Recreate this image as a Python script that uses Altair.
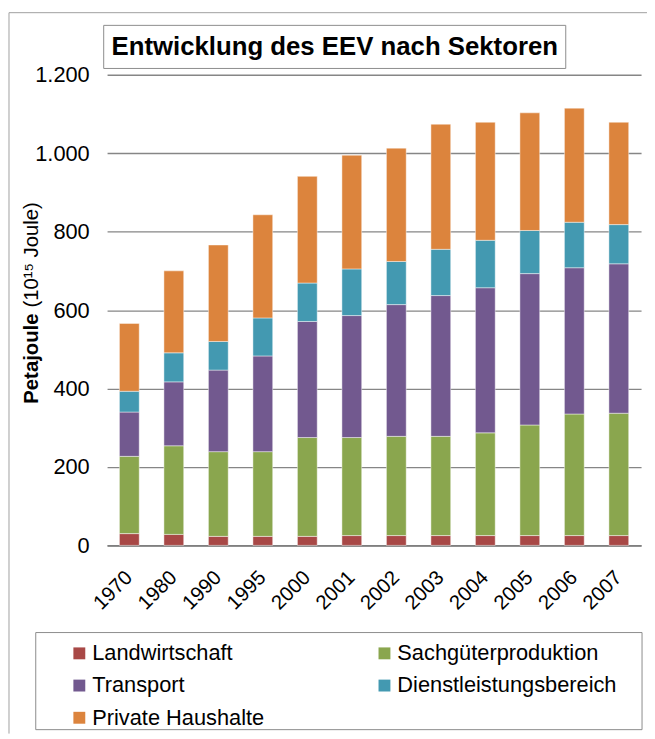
import altair as alt
import pandas as pd

years = ["1970", "1980", "1990", "1995", "2000", "2001", "2002", "2003", "2004", "2005", "2006", "2007"]
landwirtschaft = [30, 28, 23, 23, 23, 25, 25, 25, 25, 25, 25, 25]
sachgueter = [197, 226, 216, 216, 252, 250, 253, 253, 262, 282, 310, 312]
transport = [113, 163, 208, 244, 296, 311, 336, 359, 370, 386, 373, 381]
dienstleistung = [53, 74, 73, 97, 98, 119, 110, 118, 121, 110, 116, 100]
haushalte = [173, 209, 246, 263, 272, 290, 289, 319, 301, 300, 291, 261]

sectors = ["Landwirtschaft", "Sachgüterproduktion", "Transport",
           "Dienstleistungsbereich", "Private Haushalte"]
colors = ["#A84846", "#8AA64E", "#72598F", "#4399B1", "#DC843D"]
series = [landwirtschaft, sachgueter, transport, dienstleistung, haushalte]
y_ticks = [0, 200, 400, 600, 800, 1000, 1200]

rows = []
for si, (name, vals) in enumerate(zip(sectors, series)):
    for yr, v in zip(years, vals):
        rows.append({"Jahr": yr, "Sektor": name, "Wert": v, "idx": si})
df = pd.DataFrame(rows)
one = pd.DataFrame({"a": [0]})

FONT = "Liberation Sans"

bars = alt.Chart(df).mark_bar(stroke="#ffffff", strokeOpacity=0.45, strokeWidth=1).encode(
    x=alt.X("Jahr:N", sort=years,
            scale=alt.Scale(paddingInner=0.555, paddingOuter=0.2775),
            axis=alt.Axis(title=None, labelAngle=-45, labelAlign="right", labelBaseline="middle",
                          labelPadding=29, ticks=False, labelFontSize=20.5, labelColor="#000000",
                          domainColor="#7f7f7f", domainWidth=2, grid=False)),
    y=alt.Y("Wert:Q", stack="zero",
            scale=alt.Scale(domain=[0, 1200], nice=False),
            axis=alt.Axis(title=None, values=y_ticks, grid=True, gridColor="#868686", gridWidth=1.4,
                          domain=False, ticks=False, labelPadding=18, labelFontSize=22,
                          labelColor="#000000",
                          labelExpr="replace(format(datum.value, ','), ',', '.')")),
    color=alt.Color("Sektor:N", sort=sectors,
                    scale=alt.Scale(domain=sectors, range=colors),
                    legend=alt.Legend(title=None, orient="none", legendX=-39, legendY=573,
                                      direction="horizontal",
                                      columns=2, columnPadding=110, rowPadding=10.5,
                                      symbolType="square", symbolSize=144, symbolStrokeWidth=0,
                                      labelFontSize=22, labelOffset=2, labelLimit=400,
                                      labelColor="#000000", padding=0)),
    order=alt.Order("idx:Q", sort="ascending"),
)

border_v = alt.Chart(one).mark_rule(color="#a0a0a0", strokeWidth=1).encode(
    x=alt.value(-99), y=alt.value(-62.7), y2=alt.value(665))
border_h = alt.Chart(one).mark_rule(color="#a0a0a0", strokeWidth=1).encode(
    x=alt.value(-99), x2=alt.value(545), y=alt.value(-62.7))

title_box = alt.Chart(one).mark_rect(fill="#ffffff", stroke="#8c8c8c", strokeWidth=1).encode(
    x=alt.value(-3.4), x2=alt.value(463), y=alt.value(-49.9), y2=alt.value(-6.4))
title_text = alt.Chart(one).mark_text(
    text="Entwicklung des EEV nach Sektoren", font=FONT, fontWeight="bold", fontSize=26,
    align="center", baseline="middle", color="#000000").encode(
    x=alt.value(229.8), y=alt.value(-28.2))

ytitle1 = alt.Chart(one).mark_text(
    text="Petajoule", font=FONT, fontWeight="bold", fontSize=20.5, angle=270,
    align="left", baseline="middle", color="#000000").encode(
    x=alt.value(-75.5), y=alt.value(332))
ytitle2 = alt.Chart(one).mark_text(
    text="(10¹⁵ Joule)", font=FONT, fontSize=20.5, angle=270,
    align="left", baseline="middle", color="#000000").encode(
    x=alt.value(-75.5), y=alt.value(235))

legend_box = alt.Chart(one).mark_rect(fillOpacity=0, stroke="#8c8c8c", strokeWidth=1).encode(
    x=alt.value(-72), x2=alt.value(540), y=alt.value(563), y2=alt.value(661))

chart = alt.layer(
    border_v, border_h, title_box, title_text, bars, ytitle1, ytitle2, legend_box
).properties(
    width=539, height=475,
    padding={"left": 100, "top": 64, "right": 6, "bottom": 190},
    autosize=alt.AutoSizeParams(type="none"),
).configure(font=FONT).configure_view(strokeWidth=0)

chart.save("out.html", embed_options={"renderer": "svg", "actions": False})
